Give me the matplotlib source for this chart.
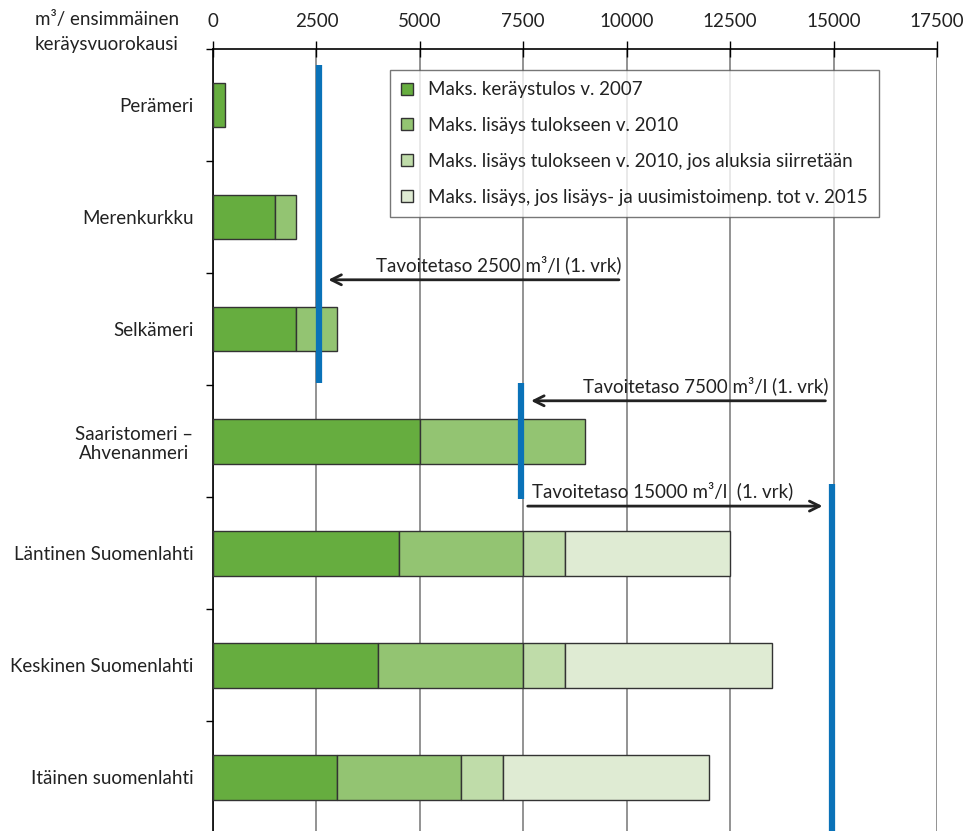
import matplotlib
matplotlib.use("Agg")
import matplotlib.pyplot as plt
import numpy as np

plt.rcParams['font.family'] = ['Lato', 'DejaVu Sans']
plt.rcParams['font.size'] = 13.5
plt.rcParams['text.color'] = '#222222'

categories = ['Perämeri', 'Merenkurkku', 'Selkämeri', 'Saaristomeri –\nAhvenanmeri',
              'Läntinen Suomenlahti', 'Keskinen Suomenlahti', 'Itäinen suomenlahti']
tulos_2007 = [300, 1500, 2000, 5000, 4500, 4000, 3000]
lisays_2010 = [0, 500, 1000, 4000, 3000, 3500, 3000]
lisays_siirto = [0, 0, 0, 0, 1000, 1000, 1000]
lisays_2015 = [0, 0, 0, 0, 4000, 5000, 5000]
series_labels = ['Maks. keräystulos v. 2007', 'Maks. lisäys tulokseen v. 2010',
                 'Maks. lisäys tulokseen v. 2010, jos aluksia siirretään',
                 'Maks. lisäys, jos lisäys- ja uusimistoimenp. tot v. 2015']
colors = ['#66ad3f', '#93c472', '#bfdca9', '#dfebd3']

# tavoitetasot: viivan x, alku- ja loppukohta (kategoriayksiköissä)
target_x = [2560, 7450, 14950]
target_y0 = [-0.36, 2.48, 3.38]
target_y1 = [2.48, 3.52, 6.5]
arrow_start = [9880, 14870, 7540]
arrow_end = [2720, 7620, 14800]
arrow_y = [1.56, 2.64, 3.58]
target_texts = ['Tavoitetaso 2500 m³/l (1. vrk)', 'Tavoitetaso 7500 m³/l (1. vrk)',
                'Tavoitetaso 15000 m³/l  (1. vrk)']

fig = plt.figure(figsize=(9.68, 8.31), dpi=100)
ax = fig.add_axes([213/968, 0, 724/968, 782/831])

y = np.arange(len(categories))
left = np.zeros(len(categories))
for vals, col, lab in zip([tulos_2007, lisays_2010, lisays_siirto, lisays_2015], colors, series_labels):
    vals = np.array(vals, dtype=float)
    mask = vals > 0
    ax.barh(y[mask], vals[mask], left=left[mask], height=0.4, color=col,
            edgecolor='#333333', linewidth=1.0, label=lab, zorder=3)
    left += vals

for tx, a, b in zip(target_x, target_y0, target_y1):
    ax.plot([tx, tx], [a, b], color='#0a72b8', lw=4.5, solid_capstyle='butt', zorder=5)

for s, e, ay, t in zip(arrow_start, arrow_end, arrow_y, target_texts):
    ax.annotate('', xy=(e, ay), xytext=(s, ay),
                arrowprops=dict(arrowstyle='->', color='#222222', lw=2, mutation_scale=18),
                zorder=6)
    if e > s:
        ax.text(s + 180, ay - 0.05, t, ha='left', va='bottom', fontsize=13.5, zorder=6)
    else:
        ax.text(s, ay - 0.05, t, ha='right', va='bottom', fontsize=13.5, zorder=6)

ax.set_xlim(0, 17500)
ax.set_ylim(6.48, -0.5)
ax.set_xticks(np.arange(0, 17501, 2500))
ax.xaxis.tick_top()
ax.tick_params(axis='x', direction='inout', length=12, width=1, pad=8, labelsize=13.5,
               labelcolor='#222222')
ax.set_yticks(y)
ax.set_yticklabels(categories, fontsize=13.5)
ax.tick_params(axis='y', length=0, pad=14, labelcolor='#222222')
ax.set_yticks(np.arange(-0.5, 6.5, 1), minor=True)
ax.tick_params(axis='y', which='minor', length=5, width=1)
for lab in ax.get_yticklabels():
    lab.set_multialignment('center')

ax.grid(axis='x', color='#8a8a8a', lw=1.3, zorder=0)
ax.set_axisbelow(True)
ax.spines['right'].set_visible(False)
ax.spines['bottom'].set_visible(False)
ax.spines['top'].set_linewidth(1.2)
ax.spines['left'].set_linewidth(1.2)

fig.text(107/968, 1 - 32/831, 'm³/ ensimmäinen\nkeräysvuorokausi', ha='center', va='center',
         fontsize=13.5, linespacing=1.6)

leg = ax.legend(loc='upper left', bbox_to_anchor=(177/724, 1 - 21/782), borderaxespad=0,
                fontsize=13.5, frameon=True, fancybox=False, edgecolor='#555555',
                handlelength=0.6, handleheight=0.6, handletextpad=0.8, labelspacing=1.0,
                borderpad=0.6)
leg.get_frame().set_linewidth(1.0)

fig.savefig('out.png', dpi=100)
